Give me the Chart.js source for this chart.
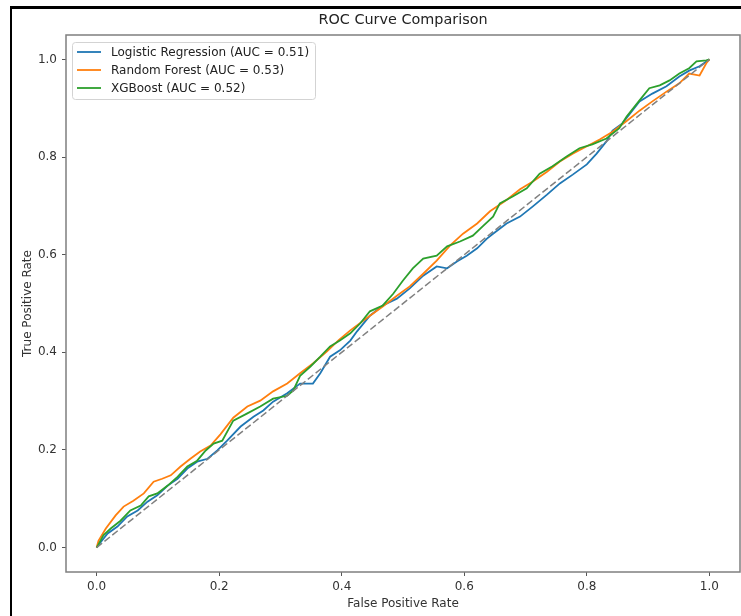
<!DOCTYPE html>
<html>
<head>
<meta charset="utf-8">
<script src="https://cdn.jsdelivr.net/npm/chart.js@4.4.1/dist/chart.umd.min.js"></script>
<style>
  html, body { margin: 0; padding: 0; background: #fff; overflow: hidden; }
  #wrap { position: relative; width: 741px; height: 616px; }
  #frame { position: absolute; left: 10px; top: 6px; width: 760px; height: 660px;
           border-left: 2px solid #000; border-top: 3px solid #000; pointer-events: none; }
</style>
</head>
<body>
<div id="wrap">
  <canvas id="roc-chart" width="741" height="616"></canvas>
  <div id="frame"></div>
</div>
<script>
// values
const modelNames = ["Logistic Regression (AUC = 0.51)", "Random Forest (AUC = 0.53)", "XGBoost (AUC = 0.52)"];

const lrFpr = [0, 0.002, 0.018, 0.034, 0.050, 0.067, 0.083, 0.099, 0.116, 0.132, 0.148, 0.164, 0.181, 0.197, 0.213, 0.235, 0.256, 0.272, 0.288, 0.311, 0.332, 0.353, 0.365, 0.381, 0.397, 0.414, 0.425, 0.446, 0.467, 0.490, 0.511, 0.533, 0.555, 0.572, 0.588, 0.604, 0.621, 0.637, 0.647, 0.669, 0.691, 0.712, 0.735, 0.756, 0.777, 0.800, 0.816, 0.832, 0.842, 0.858, 0.886, 0.907, 0.930, 0.951, 0.967, 0.984, 1];
const lrTpr = [0, 0.004, 0.029, 0.043, 0.064, 0.076, 0.094, 0.107, 0.127, 0.141, 0.162, 0.176, 0.182, 0.199, 0.219, 0.248, 0.268, 0.281, 0.299, 0.316, 0.336, 0.336, 0.357, 0.391, 0.404, 0.424, 0.443, 0.475, 0.496, 0.510, 0.531, 0.557, 0.576, 0.572, 0.586, 0.598, 0.613, 0.633, 0.643, 0.664, 0.678, 0.699, 0.723, 0.746, 0.764, 0.785, 0.807, 0.832, 0.854, 0.869, 0.914, 0.930, 0.945, 0.965, 0.977, 0.986, 1];

const rfFpr = [0, 0.003, 0.015, 0.031, 0.044, 0.060, 0.077, 0.093, 0.107, 0.121, 0.137, 0.153, 0.169, 0.186, 0.202, 0.223, 0.246, 0.267, 0.288, 0.311, 0.332, 0.353, 0.376, 0.395, 0.414, 0.446, 0.467, 0.490, 0.511, 0.533, 0.555, 0.577, 0.598, 0.621, 0.642, 0.669, 0.691, 0.712, 0.735, 0.756, 0.777, 0.800, 0.821, 0.842, 0.865, 0.886, 0.907, 0.930, 0.951, 0.967, 0.984, 0.995, 1];
const rfTpr = [0, 0.014, 0.039, 0.066, 0.084, 0.096, 0.111, 0.135, 0.141, 0.148, 0.166, 0.182, 0.197, 0.209, 0.232, 0.266, 0.289, 0.301, 0.320, 0.336, 0.357, 0.377, 0.402, 0.425, 0.445, 0.475, 0.494, 0.516, 0.535, 0.561, 0.588, 0.619, 0.643, 0.664, 0.689, 0.712, 0.734, 0.750, 0.770, 0.791, 0.807, 0.822, 0.836, 0.852, 0.874, 0.895, 0.914, 0.934, 0.951, 0.971, 0.967, 0.992, 1];

const xgbFpr = [0, 0.002, 0.011, 0.023, 0.039, 0.055, 0.072, 0.085, 0.099, 0.116, 0.132, 0.148, 0.164, 0.178, 0.191, 0.205, 0.223, 0.246, 0.267, 0.288, 0.311, 0.321, 0.332, 0.349, 0.365, 0.381, 0.397, 0.414, 0.430, 0.446, 0.467, 0.484, 0.500, 0.516, 0.533, 0.555, 0.572, 0.593, 0.614, 0.630, 0.647, 0.658, 0.679, 0.702, 0.723, 0.744, 0.767, 0.788, 0.809, 0.832, 0.853, 0.865, 0.886, 0.902, 0.919, 0.935, 0.951, 0.967, 0.979, 0.995, 1];
const xgbTpr = [0, 0.004, 0.025, 0.039, 0.055, 0.076, 0.086, 0.105, 0.111, 0.127, 0.145, 0.166, 0.178, 0.199, 0.213, 0.219, 0.260, 0.275, 0.289, 0.305, 0.311, 0.322, 0.352, 0.371, 0.391, 0.412, 0.424, 0.439, 0.459, 0.484, 0.496, 0.520, 0.547, 0.572, 0.592, 0.598, 0.617, 0.627, 0.639, 0.658, 0.678, 0.705, 0.719, 0.736, 0.766, 0.781, 0.801, 0.818, 0.826, 0.838, 0.859, 0.883, 0.916, 0.941, 0.947, 0.957, 0.971, 0.982, 0.996, 0.998, 1];

const chanceFpr = [0, 1];
const chanceTpr = [0, 1];

const xTicks = [0, 0.2, 0.4, 0.6, 0.8, 1.0];
const yTicks = [0, 0.2, 0.4, 0.6, 0.8, 1.0];

const toPoints = (xs, ys) => xs.map((x, i) => ({ x: x, y: ys[i] }));

Chart.defaults.font.family = "'DejaVu Sans', sans-serif";
Chart.defaults.font.size = 12;
Chart.defaults.color = '#333';

// axes box, title and the legend inside the plot (matplotlib look)
const framePlugin = {
  id: 'frame',
  afterDatasetsDraw(chart) {
    const { ctx, chartArea: a } = chart;
    ctx.save();
    ctx.strokeStyle = '#7f7f7f';
    ctx.lineWidth = 1.5;
    ctx.strokeRect(a.left, a.top, a.right - a.left, a.bottom - a.top);
    ctx.fillStyle = '#222';
    ctx.font = "14.4px 'DejaVu Sans'";
    ctx.textAlign = 'center';
    ctx.textBaseline = 'middle';
    ctx.fillText('ROC Curve Comparison', (a.left + a.right) / 2, 20);
    ctx.restore();
  },
  afterDraw(chart) {
    const { ctx, chartArea: a } = chart;
    const x0 = a.left + 6, y0 = a.top + 7;
    ctx.save();
    ctx.beginPath();
    ctx.roundRect(x0 + 0.5, y0 + 0.5, 243, 57, 3);
    ctx.fillStyle = 'rgba(255,255,255,0.8)';
    ctx.fill();
    ctx.strokeStyle = '#d3d3d3';
    ctx.lineWidth = 1;
    ctx.stroke();
    ctx.font = "12px 'DejaVu Sans'";
    ctx.textBaseline = 'middle';
    chart.data.datasets.filter(d => d.label).forEach((d, i) => {
      const y = y0 + 10 + i * 18;
      ctx.strokeStyle = d.borderColor;
      ctx.lineWidth = 1.8;
      ctx.beginPath();
      ctx.moveTo(x0 + 5, y);
      ctx.lineTo(x0 + 29, y);
      ctx.stroke();
      ctx.fillStyle = '#222';
      ctx.fillText(d.label, x0 + 39, y + 1);
    });
    ctx.restore();
  }
};

const lineStyle = { showLine: true, pointRadius: 0, borderWidth: 1.8, tension: 0, fill: false };

new Chart(document.getElementById('roc-chart'), {
  type: 'scatter',
  data: {
    datasets: [
      Object.assign({ label: modelNames[0], data: toPoints(lrFpr, lrTpr), borderColor: '#1f77b4', order: 3 }, lineStyle),
      Object.assign({ label: modelNames[1], data: toPoints(rfFpr, rfTpr), borderColor: '#ff7f0e', order: 2 }, lineStyle),
      Object.assign({ label: modelNames[2], data: toPoints(xgbFpr, xgbTpr), borderColor: '#2ca02c', order: 1 }, lineStyle),
      Object.assign({ data: toPoints(chanceFpr, chanceTpr), borderColor: '#808080', borderDash: [7, 3], order: 0 }, lineStyle, { borderWidth: 1.5 })
    ]
  },
  options: {
    responsive: false,
    animation: false,
    layout: { padding: { left: 0, right: 1, top: 35, bottom: 0 } },
    plugins: {
      legend: { display: false },
      title: { display: false },
      tooltip: { enabled: false }
    },
    scales: {
      x: {
        type: 'linear',
        min: -0.05,
        max: 1.05,
        afterBuildTicks: s => { s.ticks = xTicks.map(v => ({ value: v })); },
        afterFit: s => { s.height = 44; },
        grid: { drawOnChartArea: false, drawTicks: true, tickLength: 4, tickColor: '#555', tickWidth: 1 },
        border: { display: false },
        ticks: { padding: 4, maxRotation: 0, autoSkip: false, callback: v => Number(v).toFixed(1) },
        title: { display: true, text: 'False Positive Rate', padding: { top: 0, bottom: 5 } }
      },
      y: {
        type: 'linear',
        min: -0.05,
        max: 1.05,
        afterBuildTicks: s => { s.ticks = yTicks.map(v => ({ value: v })); },
        afterFit: s => { s.width = 66; },
        grid: { drawOnChartArea: false, drawTicks: true, tickLength: 4, tickColor: '#555', tickWidth: 1 },
        border: { display: false },
        ticks: { padding: 5, autoSkip: false, callback: v => Number(v).toFixed(1) },
        title: { display: true, text: 'True Positive Rate', padding: { top: 21, bottom: 0 } }
      }
    }
  },
  plugins: [framePlugin]
});
</script>
</body>
</html>
